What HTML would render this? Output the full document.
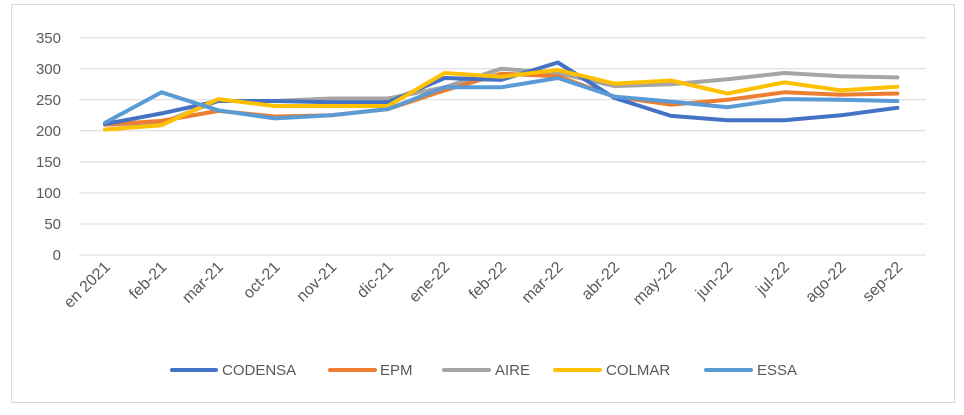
<!DOCTYPE html>
<html><head><meta charset="utf-8"><style>
html,body{margin:0;padding:0;background:#fff}
svg{display:block}
text{font-family:"Liberation Sans",sans-serif;fill:#595959}
</style></head><body>
<svg width="964" height="415" viewBox="0 0 964 415" xmlns="http://www.w3.org/2000/svg">
<rect x="0" y="0" width="964" height="415" fill="#fff"/>
<rect x="11.5" y="4.5" width="943" height="398" fill="none" stroke="#d9d9d9" stroke-width="1"/>
<g stroke="#d9d9d9" stroke-width="1">
<line x1="79" x2="926" y1="37.7" y2="37.7"/>
<line x1="79" x2="926" y1="68.7" y2="68.7"/>
<line x1="79" x2="926" y1="99.8" y2="99.8"/>
<line x1="79" x2="926" y1="130.8" y2="130.8"/>
<line x1="79" x2="926" y1="161.9" y2="161.9"/>
<line x1="79" x2="926" y1="192.9" y2="192.9"/>
<line x1="79" x2="926" y1="224" y2="224"/>
<line x1="79" x2="926" y1="255" y2="255"/>
</g>
<g font-size="15" text-anchor="end">
<text x="61" y="43">350</text><text x="61" y="74">300</text><text x="61" y="105">250</text>
<text x="61" y="136">200</text><text x="61" y="167">150</text><text x="61" y="198">100</text>
<text x="61" y="229">50</text><text x="61" y="260">0</text>
</g>
<g font-size="16" text-anchor="end" id="xl"></g>
<g fill="none" stroke-width="4" stroke-linejoin="round" stroke-linecap="round" id="ser"></g>
<g font-size="15">
<line x1="172" x2="216" y1="370" y2="370" stroke="#4472C4" stroke-width="4" stroke-linecap="round"/><text x="222" y="375">CODENSA</text>
<line x1="330" x2="375" y1="370" y2="370" stroke="#ED7D31" stroke-width="4" stroke-linecap="round"/><text x="380" y="375">EPM</text>
<line x1="444" x2="489" y1="370" y2="370" stroke="#A5A5A5" stroke-width="4" stroke-linecap="round"/><text x="495" y="375">AIRE</text>
<line x1="555" x2="600" y1="370" y2="370" stroke="#FFC000" stroke-width="4" stroke-linecap="round"/><text x="606" y="375">COLMAR</text>
<line x1="706" x2="751" y1="370" y2="370" stroke="#5B9BD5" stroke-width="4" stroke-linecap="round"/><text x="757" y="375">ESSA</text>
</g>
</svg>
<script>
var labels=["en 2021","feb-21","mar-21","oct-21","nov-21","dic-21","ene-22","feb-22","mar-22","abr-22","may-22","jun-22","jul-22","ago-22","sep-22"];
var ns="http://www.w3.org/2000/svg";
function X(i){return 105+i*56.6}
function Y(v){return 255-v*0.621}
var xl=document.getElementById('xl');
labels.forEach(function(l,i){var t=document.createElementNS(ns,'text');var x=X(i)+6,y=268;t.setAttribute('x',x);t.setAttribute('y',y);t.setAttribute('transform','rotate(-45 '+x+' '+y+')');t.textContent=l;xl.appendChild(t);});
var S=[
["#A5A5A5",[210,213,248,248,252,252,270,300,293,272,275,283,293,288,286]],
["#ED7D31",[210,216,232,223,225,235,265,292,288,255,242,250,262,258,260]],
["#4472C4",[211,228,248,248,246,246,285,282,310,253,224,217,217,225,237]],
["#FFC000",[202,209,251,240,240,240,293,287,298,276,281,260,278,265,271]],
["#5B9BD5",[213,262,233,220,225,235,270,270,285,255,247,238,251,250,248]]];
var g=document.getElementById('ser');
S.forEach(function(s){var p=document.createElementNS(ns,'polyline');p.setAttribute('stroke',s[0]);p.setAttribute('points',s[1].map(function(v,i){return X(i).toFixed(1)+','+Y(v).toFixed(1)}).join(' '));g.appendChild(p);});
</script>
</body></html>
